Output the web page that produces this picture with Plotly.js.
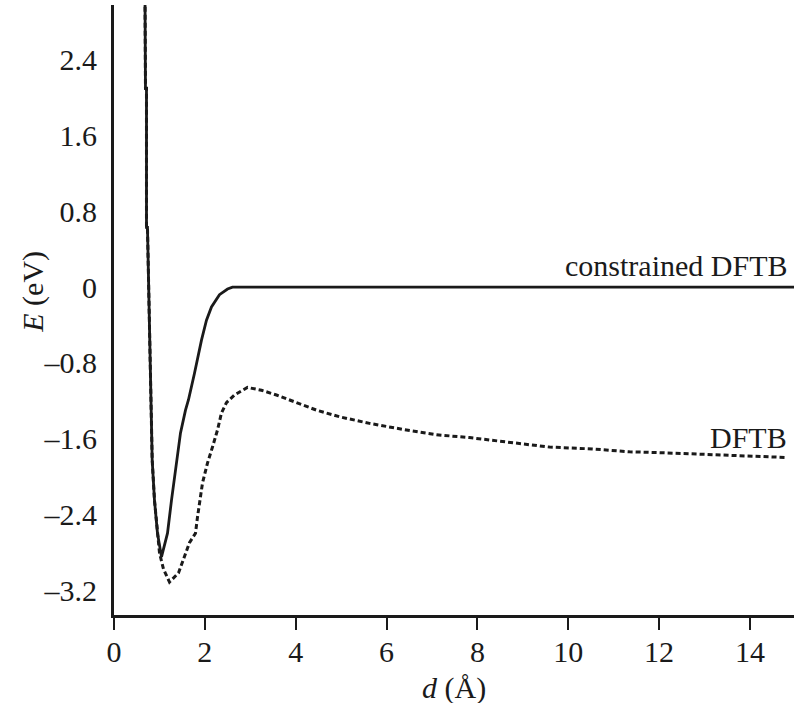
<!DOCTYPE html>
<html>
<head>
<meta charset="utf-8">
<script src="https://cdn.plot.ly/plotly-3.0.1.min.js"></script>
<style>
  html, body { margin: 0; padding: 0; background: #fff; }
  #chart { width: 794px; height: 703px; }
</style>
</head>
<body>
<div id="chart"></div>
<script>
// ── DATA ──────────────────────────────────────────────
// constrained DFTB: shares the repulsive wall, then flattens at 0
const consD = [0.68, 0.687, 0.693, 0.715, 0.715, 0.737, 0.781, 0.825, 0.841, 0.891, 0.957, 1.046,
               1.178, 1.266, 1.376, 1.464, 1.574, 1.640, 1.772, 1.926, 2.036, 2.146, 2.322, 2.50, 2.608, 15.0];
const consE = [3.3, 2.98, 2.10, 2.10, 0.63, 0.63, -0.42, -1.30, -1.83, -2.25, -2.60, -2.85,
               -2.60, -2.25, -1.83, -1.54, -1.30, -1.19, -0.91, -0.56, -0.35, -0.21, -0.08, -0.02, 0, 0];

// DFTB: same wall, deeper minimum, barrier near 3 Å, slow approach to ~ -1.8 eV
const dftbD = [0.68, 0.687, 0.693, 0.715, 0.715, 0.737, 0.781, 0.825, 0.841, 0.891, 0.957, 1.002,
               1.09, 1.222, 1.42, 1.662, 1.794, 1.838, 1.948, 2.058, 2.168, 2.278, 2.366, 2.476, 2.652,
               2.939, 3.247, 3.577, 4.017, 4.457, 4.964, 5.624, 6.439, 7.099, 7.825, 9.586, 10.53,
               11.35, 12.07, 13.04, 13.99, 14.80];
const dftbE = [3.3, 2.98, 2.10, 2.10, 0.63, 0.63, -0.42, -1.30, -1.83, -2.25, -2.60, -2.81,
               -2.98, -3.116, -3.02, -2.70, -2.60, -2.43, -2.07, -1.86, -1.69, -1.51, -1.33, -1.22, -1.14,
               -1.06, -1.09, -1.14, -1.22, -1.30, -1.37, -1.44, -1.51, -1.56, -1.59, -1.69, -1.71,
               -1.74, -1.75, -1.77, -1.79, -1.80];

const xTicks = [0, 2, 4, 6, 8, 10, 12, 14];
const yTicks = [2.4, 1.6, 0.8, 0, -0.8, -1.6, -2.4, -3.2];
const yTickText = ['2.4', '1.6', '0.8', '0', '\u20130.8', '\u20131.6', '\u20132.4', '\u20133.2'];

const FONT = '"Liberation Serif", "Times New Roman", serif';
const FS = 30;

const traces = [
  {
    x: dftbD, y: dftbE, type: 'scatter', mode: 'lines', name: 'DFTB',
    line: { color: '#1a1a1a', width: 3, dash: '5px,3px' }
  },
  {
    x: consD, y: consE, type: 'scatter', mode: 'lines', name: 'constrained DFTB',
    line: { color: '#1a1a1a', width: 2.8 }
  }
];

const layout = {
  width: 794, height: 703,
  paper_bgcolor: '#fff', plot_bgcolor: '#fff',
  font: { family: FONT, color: '#1a1a1a', size: FS },
  showlegend: false,
  margin: { l: 114, r: 0, t: 5, b: 88 },
  xaxis: {
    range: [0, 14.97], tickvals: xTicks, ticktext: xTicks.map(String),
    showgrid: false, zeroline: false,
    showline: true, linecolor: '#1a1a1a', linewidth: 3,
    ticks: 'outside', ticklen: 12, tickwidth: 2, tickcolor: '#1a1a1a',
    ticklabelstandoff: -4,
    tickfont: { family: FONT, size: FS }
  },
  yaxis: {
    range: [-3.464, 2.98], tickvals: yTicks, ticktext: yTickText,
    showgrid: false, zeroline: false,
    showline: true, linecolor: '#1a1a1a', linewidth: 3,
    ticks: '', ticklabelstandoff: 8,
    tickfont: { family: FONT, size: FS }
  },
  annotations: [
    { xref: 'paper', yref: 'paper', x: 0.5, y: -0.12, yanchor: 'middle', text: '<i>d</i> (Å)',
      showarrow: false, font: { family: FONT, size: FS } },
    { xref: 'paper', yref: 'paper', x: -0.147, y: 0.53, text: '<i>E</i> (eV)', textangle: -90,
      showarrow: false, font: { family: FONT, size: FS } },
    { x: 14.85, y: 0.233, xanchor: 'right', yanchor: 'middle', text: 'constrained DFTB',
      showarrow: false, font: { family: FONT, size: FS } },
    { x: 14.85, y: -1.584, xanchor: 'right', yanchor: 'middle', text: 'DFTB',
      showarrow: false, font: { family: FONT, size: FS } }
  ]
};

Plotly.newPlot('chart', traces, layout, { displayModeBar: false, responsive: false });
</script>
</body>
</html>
